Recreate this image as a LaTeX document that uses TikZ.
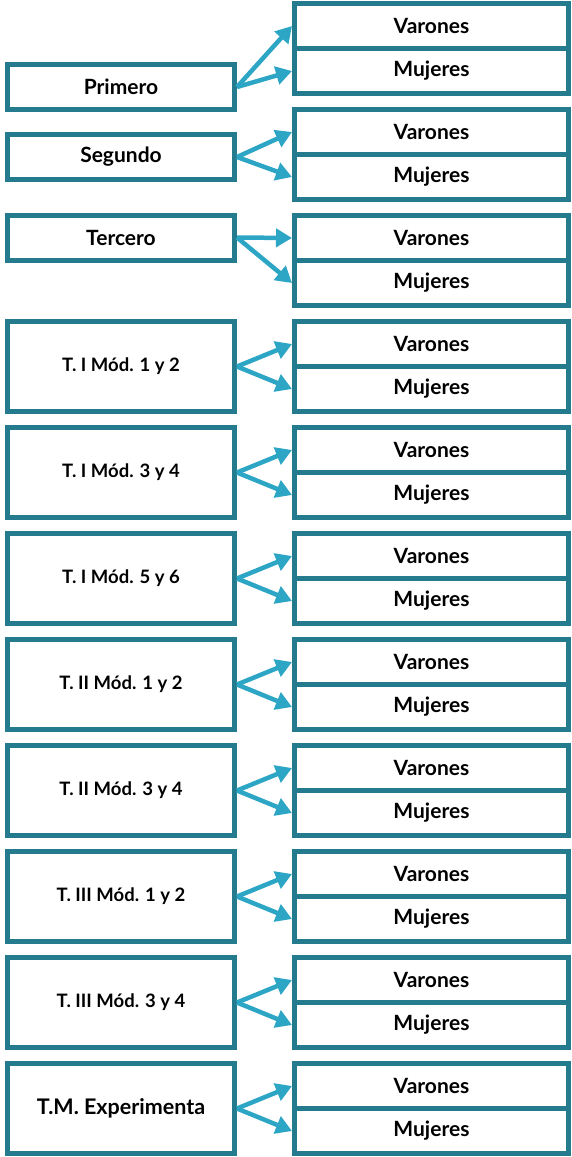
\documentclass[tikz,border=0pt]{standalone}
\usepackage{fontspec}
\setmainfont{Lato}
\usetikzlibrary{arrows.meta, positioning}
\definecolor{boxteal}{RGB}{35,123,141}
\definecolor{arrowblue}{RGB}{44,166,196}
\tikzset{
	sexbox/.style={draw=boxteal, line width=5pt, fill=white, minimum width=274pt, minimum height=45pt, inner sep=0pt, font=\fontsize{21}{24}\selectfont\bfseries},
	levelbox/.style={draw=boxteal, line width=5pt, fill=white, minimum width=227pt, minimum height=45pt, inner sep=0pt, font=\fontsize{21}{24}\selectfont\bfseries},
	modbox/.style={levelbox, minimum height=90pt, font=\fontsize{18.5}{22}\selectfont\bfseries},
	link/.style={draw=arrowblue, line width=4.5pt, -{Triangle[length=16pt,width=18pt]}}
}

\begin{document}
\begin{tikzpicture}[x=1pt,y=-1pt]
				\useasboundingbox (0,0) rectangle (572,1157);
				% grupos de la izquierda
				\node[levelbox] (prim) at (121,87) {Primero};
				\node[levelbox] (segu) at (121,157) {Segundo};
				\node[levelbox] (terc) at (121,237.5) {Tercero};
				\node[modbox] (ti12) at (121,366.5) {T. I Mód. 1 y 2};
				\node[modbox] (ti34) at (121,472.5) {T. I Mód. 3 y 4};
				\node[modbox] (ti56) at (121,578.5) {T. I Mód. 5 y 6};
				\node[modbox] (tii12) at (121,684.5) {T. II Mód. 1 y 2};
				\node[modbox] (tii34) at (121,790.5) {T. II Mód. 3 y 4};
				\node[modbox] (tiii12) at (121,896.5) {T. III Mód. 1 y 2};
				\node[modbox] (tiii34) at (121,1002.5) {T. III Mód. 3 y 4};
				\node[modbox, font=\fontsize{21.5}{24}\selectfont\bfseries] (tmexp) at (121,1108.5) {T.M. Experimenta};
				% varones y mujeres
				\node[sexbox] (v1) at (431.5,26) {Varones};
				\node[sexbox] (m1) at (431.5,71) {Mujeres};
				\node[sexbox] (v2) at (431.5,132) {Varones};
				\node[sexbox] (m2) at (431.5,177) {Mujeres};
				\node[sexbox] (v3) at (431.5,238) {Varones};
				\node[sexbox] (m3) at (431.5,283) {Mujeres};
				\node[sexbox] (v4) at (431.5,344) {Varones};
				\node[sexbox] (m4) at (431.5,389) {Mujeres};
				\node[sexbox] (v5) at (431.5,450) {Varones};
				\node[sexbox] (m5) at (431.5,495) {Mujeres};
				\node[sexbox] (v6) at (431.5,556) {Varones};
				\node[sexbox] (m6) at (431.5,601) {Mujeres};
				\node[sexbox] (v7) at (431.5,662) {Varones};
				\node[sexbox] (m7) at (431.5,707) {Mujeres};
				\node[sexbox] (v8) at (431.5,768) {Varones};
				\node[sexbox] (m8) at (431.5,813) {Mujeres};
				\node[sexbox] (v9) at (431.5,874) {Varones};
				\node[sexbox] (m9) at (431.5,919) {Mujeres};
				\node[sexbox] (v10) at (431.5,980) {Varones};
				\node[sexbox] (m10) at (431.5,1025) {Mujeres};
				\node[sexbox] (v11) at (431.5,1086) {Varones};
				\node[sexbox] (m11) at (431.5,1131) {Mujeres};
				% flechas
				\draw[link] (prim.east) -- (v1.west);
				\draw[link] (prim.east) -- (m1.west);
				\draw[link] (segu.east) -- (v2.west);
				\draw[link] (segu.east) -- (m2.west);
				\draw[link] (terc.east) -- (v3.west);
				\draw[link] (terc.east) -- (m3.west);
				\draw[link] (ti12.east) -- (v4.west);
				\draw[link] (ti12.east) -- (m4.west);
				\draw[link] (ti34.east) -- (v5.west);
				\draw[link] (ti34.east) -- (m5.west);
				\draw[link] (ti56.east) -- (v6.west);
				\draw[link] (ti56.east) -- (m6.west);
				\draw[link] (tii12.east) -- (v7.west);
				\draw[link] (tii12.east) -- (m7.west);
				\draw[link] (tii34.east) -- (v8.west);
				\draw[link] (tii34.east) -- (m8.west);
				\draw[link] (tiii12.east) -- (v9.west);
				\draw[link] (tiii12.east) -- (m9.west);
				\draw[link] (tiii34.east) -- (v10.west);
				\draw[link] (tiii34.east) -- (m10.west);
				\draw[link] (tmexp.east) -- (v11.west);
				\draw[link] (tmexp.east) -- (m11.west);
			\end{tikzpicture}
\end{document}
